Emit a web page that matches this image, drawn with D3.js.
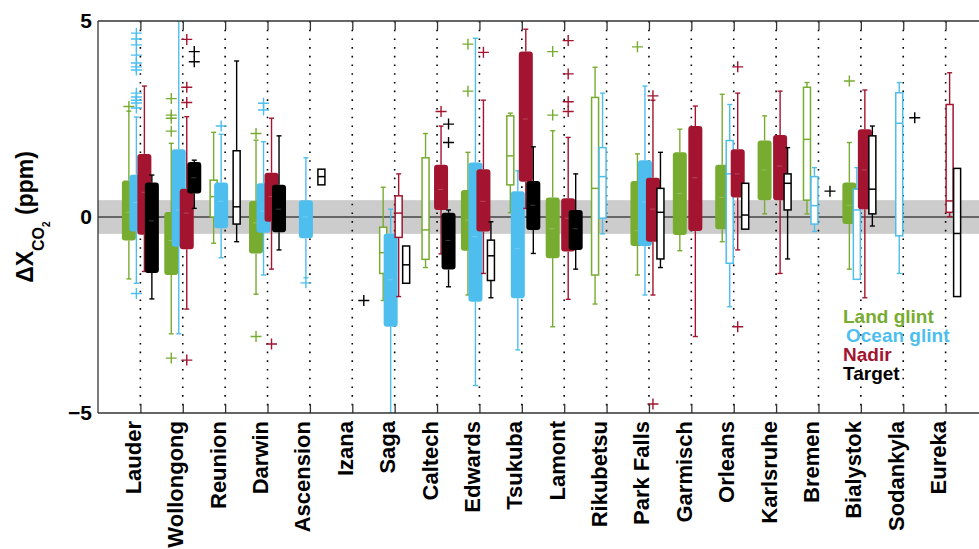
<!DOCTYPE html>
<html>
<head>
<meta charset="utf-8">
<script src="https://cdn.jsdelivr.net/npm/d3@7"></script>
<style>
  body { margin: 0; background: #fff; }
  text { font-family: "Liberation Sans", Arial, Helvetica, sans-serif; font-weight: bold; }
</style>
</head>
<body>
<div id="chart"></div>
<script>
const stations = ["Lauder", "Wollongong", "Reunion", "Darwin", "Ascension", "Izana", "Saga", "Caltech",
  "Edwards", "Tsukuba", "Lamont", "Rikubetsu", "Park Falls", "Garmisch", "Orleans", "Karlsruhe",
  "Bremen", "Bialystok", "Sodankyla", "Eureka"];

// per station: [lower whisker, q1, median, q3, upper whisker] in ppm, null = no data
const landGlint = [
  [-1.58, -0.6, 0.12, 0.93, 2.7], [-2.98, -1.48, -0.6, 0.13, 1.88], [-0.67, 0.0, 0.52, 0.94, 2.16],
  [-1.97, -0.93, -0.15, 0.41, 1.96], null, null, [-2.13, -1.44, -0.91, -0.26, 0.76],
  [-1.29, -1.08, -0.33, 1.51, 2.13], [-1.99, -0.86, -0.08, 0.69, 1.65], [0.11, 0.82, 1.56, 2.58, 2.65],
  [-2.8, -1.05, -0.3, 0.5, 2.2], [-2.22, -1.48, 0.73, 3.05, 3.82], [-1.48, -0.74, -0.35, 0.92, 1.61],
  [-0.86, -0.46, 0.6, 1.65, 2.24], [-0.63, -0.31, 0.5, 1.33, 3.13], [0.08, 0.43, 1.2, 1.95, 2.58],
  [0.08, 0.43, 1.98, 3.31, 3.43], [-1.33, -0.18, 0.3, 0.88, 1.9], null, null
];
const oceanGlint = [
  [-1.69, -0.37, 0.37, 1.08, 2.55], [-2.98, -0.76, 0.18, 1.73, 5.0], [-1.04, -0.29, 0.4, 0.88, 2.11],
  [-1.48, -0.4, 0.15, 0.86, 1.92], [-1.55, -0.54, 0.0, 0.43, 1.51], null, [-5.0, -2.8, -1.6, -0.42, 0.2],
  null, [-4.3, -2.16, -0.5, 1.39, 4.56], [-3.39, -2.07, -0.8, 0.66, 1.18], null,
  [-0.43, -0.03, 1.03, 1.77, 3.16], [-1.99, -0.74, 0.38, 1.45, 3.34], null,
  [-2.29, -1.18, 1.1, 1.95, 2.87], null, [-0.37, -0.18, 0.29, 1.03, 1.26],
  [-1.59, -1.59, 0.18, 0.71, 1.26], [-1.44, -0.48, 2.39, 3.17, 3.43], null
];
const nadir = [
  [-1.39, -0.45, 0.63, 1.61, 3.34], [-2.35, -0.82, 0.1, 0.72, 2.56], null,
  [-1.33, -0.12, 0.52, 1.13, 2.52], null, null, [-2.03, -0.52, 0.1, 0.54, 1.1],
  [-0.94, 0.18, 0.7, 1.33, 2.32], [-1.44, -0.37, 0.4, 1.22, 2.98], [0.22, 0.9, 2.5, 4.22, 4.79],
  [-2.1, -0.88, -0.03, 0.48, 2.03], null, [-1.99, -0.63, 0.2, 1.0, 2.98],
  [-3.05, -0.36, 1.0, 2.32, 2.83], [-0.84, 0.5, 1.1, 1.73, 3.16], [-1.44, 0.43, 1.3, 2.09, 3.21],
  null, [-2.06, 0.2, 1.2, 2.24, 3.24], null, [0.01, 0.12, 0.41, 2.87, 3.68]
];
const target = [
  [-2.09, -1.43, -0.1, 0.88, 1.07], [0.22, 0.6, 1.0, 1.4, 1.45], [-0.63, -0.18, 0.26, 1.69, 3.98],
  [-0.84, -0.39, 0.2, 0.82, 2.07], [0.82, 0.82, 1.03, 1.22, 1.22], null,
  [-1.69, -1.69, -1.22, -0.74, -0.74], [-1.78, -1.34, -0.6, 0.11, 0.18],
  [-2.06, -1.62, -0.99, -0.59, -0.12], [-0.93, -0.33, 0.3, 0.92, 1.79], [-1.33, -0.84, -0.3, 0.18, 1.1],
  null, [-1.29, -1.07, 0.12, 0.73, 1.65], null, [-0.31, -0.31, 0.05, 0.86, 0.86],
  [-1.07, 0.18, 0.86, 1.1, 1.77], null, [-0.23, 0.08, 0.71, 2.07, 2.32], null,
  [-2.03, -2.03, -0.42, 1.24, 1.24]
];

// outliers: [station, value]
const landGlintOut = [["Lauder", 2.82], ["Wollongong", 3.02], ["Wollongong", 2.6], ["Wollongong", 2.52],
  ["Wollongong", 2.19], ["Wollongong", -3.6], ["Darwin", 2.13], ["Darwin", -3.05], ["Edwards", 4.41],
  ["Edwards", 3.21], ["Lamont", 4.22], ["Lamont", 2.6], ["Park Falls", 4.34], ["Bialystok", 3.47]];
const oceanGlintOut = [["Lauder", 4.69], ["Lauder", 4.54], ["Lauder", 4.39], ["Lauder", 4.13],
  ["Lauder", 3.93], ["Lauder", 3.83], ["Lauder", 3.75], ["Lauder", 3.16], ["Lauder", 3.06],
  ["Lauder", 2.98], ["Lauder", 2.91], ["Lauder", 2.78], ["Lauder", -1.95], ["Reunion", 2.32],
  ["Darwin", 2.9], ["Darwin", 2.73], ["Ascension", -1.68]];
const nadirOut = [["Wollongong", 4.53], ["Wollongong", 3.31], ["Wollongong", 2.92], ["Wollongong", -3.65],
  ["Darwin", -3.24], ["Caltech", 2.69], ["Edwards", 4.2], ["Lamont", 4.5], ["Lamont", 3.65],
  ["Lamont", 2.94], ["Lamont", 2.69], ["Park Falls", 3.09], ["Park Falls", -4.77],
  ["Orleans", 3.83], ["Orleans", -2.8]];
const targetOut = [["Wollongong", 4.22], ["Wollongong", 3.96], ["Izana", -2.13], ["Caltech", 2.37],
  ["Caltech", 1.9], ["Bremen", 0.66], ["Sodankyla", 2.53]];

// stations with only a few soundings (drawn as open boxes)
const landGlintFew = ["Reunion", "Saga", "Caltech", "Tsukuba", "Rikubetsu", "Bremen"];
const oceanGlintFew = ["Rikubetsu", "Orleans", "Bremen", "Bialystok", "Sodankyla"];
const nadirFew = ["Saga", "Eureka"];
const targetFew = ["Reunion", "Ascension", "Saga", "Edwards", "Park Falls", "Orleans", "Karlsruhe", "Bialystok", "Eureka"];

const modes = ["Land glint", "Ocean glint", "Nadir", "Target"];
const band = 0.43; // shaded agreement band

const width = 979, height = 549;
const margin = { top: 21, right: -9, bottom: 136, left: 98 };

const svg = d3.select("#chart").append("svg")
  .attr("width", width)
  .attr("height", height);

const x = d3.scalePoint()
  .domain(stations)
  .range([margin.left, width - margin.right])
  .padding(1);
const y = d3.scaleLinear()
  .domain([-5, 5])
  .range([height - margin.bottom, margin.top]);

const colour = d3.scaleOrdinal().domain(modes).range(["#77ac30", "#4dbeee", "#a2142f", "#000000"]);
const offset = d3.scaleOrdinal().domain(modes).range([-11.5, -4, 4, 11.5]);

svg.append("defs").append("clipPath").attr("id", "plot")
  .append("rect")
  .attr("x", margin.left).attr("y", margin.top)
  .attr("width", width - margin.left - margin.right)
  .attr("height", y(-5) - y(5));

const plot = svg.append("g").attr("clip-path", "url(#plot)");

plot.append("rect")
  .attr("x", margin.left).attr("width", width - margin.left - margin.right)
  .attr("y", y(band)).attr("height", y(-band) - y(band))
  .attr("fill", "#cccccc");

plot.append("line")
  .attr("x1", margin.left).attr("x2", width - margin.right)
  .attr("y1", y(0)).attr("y2", y(0))
  .attr("stroke", "#000").attr("stroke-width", 1.2);

plot.append("g").selectAll("line")
  .data(stations)
  .join("line")
    .attr("x1", d => x(d)).attr("x2", d => x(d))
    .attr("y1", y(5)).attr("y2", y(-5))
    .attr("stroke", "#000").attr("stroke-width", 1.6)
    .attr("stroke-dasharray", "1.6,7.1");

const series = [
  { mode: "Land glint", stats: landGlint, out: landGlintOut, few: landGlintFew },
  { mode: "Ocean glint", stats: oceanGlint, out: oceanGlintOut, few: oceanGlintFew },
  { mode: "Nadir", stats: nadir, out: nadirOut, few: nadirFew },
  { mode: "Target", stats: target, out: targetOut, few: targetFew }
];

series.forEach(s => {
  const c = colour(s.mode);
  const light = d3.interpolateRgb(c, "#ffffff")(0.22);
  const g = plot.append("g");
  const boxes = stations
    .map((st, i) => ({ st, v: s.stats[i], open: s.few.includes(st) }))
    .filter(d => d.v);

  boxes.forEach(d => {
    const cx = x(d.st) + offset(s.mode);
    const [lo, q1, med, q3, hi] = d.v;
    const w = d.open ? 7 : 14;
    const cap = 2.5;
    if (lo < q1) {
      g.append("line").attr("x1", cx).attr("x2", cx).attr("y1", y(lo)).attr("y2", y(q1))
        .attr("stroke", c).attr("stroke-width", 1.4);
      g.append("line").attr("x1", cx - cap).attr("x2", cx + cap).attr("y1", y(lo)).attr("y2", y(lo))
        .attr("stroke", c).attr("stroke-width", 1.4);
    }
    if (hi > q3) {
      g.append("line").attr("x1", cx).attr("x2", cx).attr("y1", y(hi)).attr("y2", y(q3))
        .attr("stroke", c).attr("stroke-width", 1.4);
      g.append("line").attr("x1", cx - cap).attr("x2", cx + cap).attr("y1", y(hi)).attr("y2", y(hi))
        .attr("stroke", c).attr("stroke-width", 1.4);
    }
    if (d.open) {
      g.append("rect")
        .attr("x", cx - w / 2).attr("width", w)
        .attr("y", y(q3)).attr("height", y(q1) - y(q3))
        .attr("fill", "#fff").attr("stroke", c).attr("stroke-width", 1.5);
      g.append("line").attr("x1", cx - w / 2).attr("x2", cx + w / 2).attr("y1", y(med)).attr("y2", y(med))
        .attr("stroke", c).attr("stroke-width", 1.5);
    } else {
      g.append("rect")
        .attr("x", cx - w / 2).attr("width", w)
        .attr("y", y(q3)).attr("height", y(q1) - y(q3))
        .attr("rx", 3)
        .attr("fill", c);
      g.append("line").attr("x1", cx - 3).attr("x2", cx + 2).attr("y1", y(med)).attr("y2", y(med))
        .attr("stroke", light).attr("stroke-width", 1);
    }
  });

  g.selectAll("path.out")
    .data(s.out)
    .join("path")
      .attr("class", "out")
      .attr("d", d => {
        const px = x(d[0]) + offset(s.mode), py = y(d[1]);
        return `M${px - 5.5},${py}H${px + 5.5}M${px},${py - 5.5}V${py + 5.5}`;
      })
      .attr("fill", "none")
      .attr("stroke", c)
      .attr("stroke-width", 1.4);
});

// frame and axes
svg.append("line")
  .attr("x1", margin.left).attr("x2", width).attr("y1", y(5)).attr("y2", y(5))
  .attr("stroke", "#333").attr("stroke-width", 1.3);
svg.append("line")
  .attr("x1", margin.left).attr("x2", margin.left).attr("y1", y(5)).attr("y2", y(-5))
  .attr("stroke", "#333").attr("stroke-width", 1.3);

svg.append("g")
  .attr("transform", `translate(0,${y(5)})`)
  .call(d3.axisTop(x).tickSize(-9).tickFormat(""))
  .call(g => g.select(".domain").remove())
  .call(g => g.selectAll(".tick line").attr("stroke", "#333").attr("stroke-width", 1.3));

svg.append("g")
  .attr("transform", `translate(0,${y(-5)})`)
  .call(d3.axisBottom(x).tickSize(-9).tickSizeOuter(0))
  .call(g => g.select(".domain").attr("stroke", "#333").attr("stroke-width", 1.3)
    .attr("d", `M${margin.left},0H${width}`))
  .call(g => g.selectAll(".tick line").attr("stroke", "#333").attr("stroke-width", 1.3))
  .call(g => g.selectAll(".tick text")
    .attr("transform", "rotate(-90)")
    .attr("x", -8).attr("y", 0).attr("dy", 0)
    .attr("text-anchor", "end")
    .attr("font-size", 22)
    .attr("font-weight", "bold")
    .attr("font-family", "Liberation Sans, Arial, sans-serif")
    .attr("fill", "#000"));

svg.append("g")
  .attr("transform", `translate(${margin.left},0)`)
  .call(d3.axisLeft(y).tickValues([-5, 0, 5]).tickSize(0).tickPadding(6))
  .call(g => g.select(".domain").remove())
  .call(g => g.selectAll(".tick text")
    .attr("font-size", 21)
    .attr("font-weight", "bold")
    .attr("font-family", "Liberation Sans, Arial, sans-serif")
    .attr("fill", "#000"));

const yTitle = svg.append("text")
  .attr("transform", `translate(33,${y(0)}) rotate(-90)`)
  .attr("text-anchor", "middle")
  .attr("font-size", 23);
yTitle.append("tspan").text("ΔX");
yTitle.append("tspan").attr("font-size", 16).attr("dy", 11).text("CO");
yTitle.append("tspan").attr("font-size", 10).attr("dy", 6).text("2");
yTitle.append("tspan").attr("dy", -17).text(" (ppm)");

svg.append("g").selectAll("text")
  .data(modes)
  .join("text")
    .attr("x", (d, i) => i === 1 ? 846 : 843)
    .attr("y", (d, i) => 323 + i * 19)
    .attr("font-size", 19)
    .attr("fill", d => colour(d))
    .text(d => d);
</script>
</body>
</html>
